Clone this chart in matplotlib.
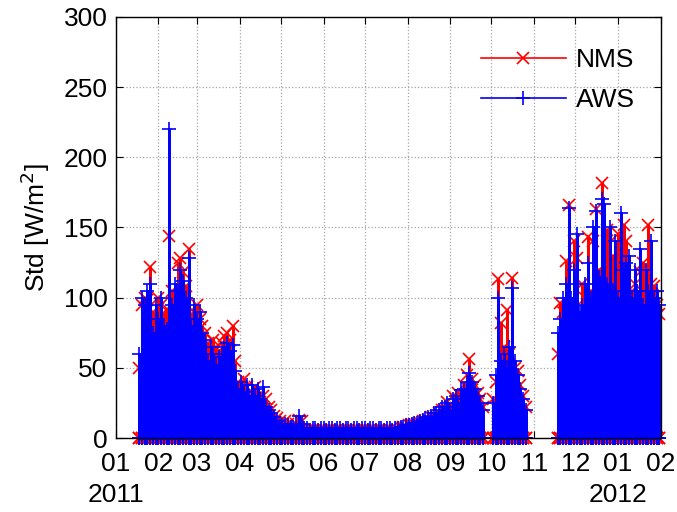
import numpy as np
import pandas as pd
import matplotlib
matplotlib.use('Agg')
import matplotlib.pyplot as plt
import matplotlib.dates as mdates

plt.rcParams['font.family'] = ['Liberation Sans', 'DejaVu Sans']

# daily peak std values, sampled every 2 days, three measuring periods
seg_starts = ['2011-01-18', '2011-10-02', '2011-11-18']

nms_a = [50, 95, 100, 98, 122, 90, 80, 100, 95, 88, 92, 144, 105, 98, 125, 128,
         118, 108, 135, 88, 90, 95, 85, 80, 75, 68, 60, 70, 65, 62, 68, 73,
         75, 70, 80, 55, 40, 35, 42, 36, 30, 32, 36, 30, 26, 30, 28, 22, 20,
         16, 14, 12, 10, 12, 10, 8, 9, 10, 13, 12, 6, 6, 5, 6, 6, 5, 6, 6, 5,
         6, 6, 5, 6, 6, 5, 6, 6, 5, 6, 6, 5, 6, 6, 5, 6, 6, 5, 6, 6, 5, 6, 6,
         5, 6, 6,
         7, 8, 8, 9, 9, 10, 10, 11, 12, 12, 13, 15, 14, 16, 18, 20,
         20, 26, 22, 30, 28, 32, 30, 38, 45,
         56, 42, 38, 32, 28, 22]
aws_a = [60, 100, 95, 105, 110, 75, 95, 85, 100, 80, 78, 220, 95, 110, 105, 120,
         112, 100, 128, 80, 95, 85, 90, 75, 70, 55, 65, 60, 52, 58, 60, 65,
         68, 62, 66, 48, 35, 40, 33, 38, 30, 38, 30, 35, 28, 36, 22, 20, 18,
         15, 12, 10, 9, 10, 9, 8, 8, 10, 16, 10, 7, 7, 6, 7, 7, 6, 7, 7, 6,
         7, 7, 6, 7, 7, 6, 7, 7, 6, 7, 7, 6, 7, 7, 6, 7, 7, 6, 7, 7, 6, 7, 7,
         6, 7, 7,
         8, 8, 9, 9, 10, 11, 11, 12, 13, 14, 15, 16, 18, 18, 20, 22,
         22, 25, 20, 28, 30, 25, 34, 35, 40,
         46, 40, 35, 30, 25, 20]

nms_b = [28, 40, 113, 82, 65, 91, 60, 114, 50, 48, 38, 30, 22]
aws_b = [25, 45, 100, 55, 60, 50, 65, 107, 55, 45, 35, 28, 20]

nms_c = [60, 96, 90, 126, 166, 95, 140, 128, 85, 110, 100, 143, 105, 140, 163,
         120, 182, 115, 148, 100, 130, 105, 145, 120, 152, 140, 95, 105, 110,
         90, 118, 125, 100, 152, 110, 108, 95, 88]
aws_c = [75, 85, 100, 110, 164, 100, 120, 145, 90, 95, 110, 125, 100, 150, 162,
         115, 170, 167, 110, 150, 105, 140, 100, 160, 120, 125, 130, 100, 120,
         105, 135, 95, 120, 105, 140, 100, 105, 95]


def spikes(starts, series):
    xs, ys = [], []
    for s, vals in zip(starts, series):
        d = pd.date_range(s, periods=len(vals), freq='2D')
        d = mdates.date2num(d)
        v = np.asarray(vals, float)
        xs.append(np.repeat(d, 3))
        ys.append(np.column_stack([np.zeros_like(v), v, np.zeros_like(v)]).ravel())
        xs.append([np.nan])
        ys.append([np.nan])
    return np.concatenate(xs), np.concatenate(ys)


fig = plt.figure(figsize=(6.77, 5.12), dpi=100)
ax = fig.add_axes([0.171, 0.1445, 0.805, 0.8225])

xn, yn = spikes(seg_starts, [nms_a, nms_b, nms_c])
xa, ya = spikes(seg_starts, [aws_a, aws_b, aws_c])
ax.plot(xn, yn, color='red', marker='x', markersize=9, mew=1.2, lw=2.0,
        label='NMS', clip_on=False)
ax.plot(xa, ya, color='blue', marker='+', markersize=10, mew=1.2, lw=2.0,
        label='AWS', clip_on=False)

ax.set_xlim(mdates.datestr2num('2011-01-01'), mdates.datestr2num('2012-02-01'))
ax.set_ylim(0, 300)
ax.xaxis.set_major_locator(mdates.MonthLocator())
ax.xaxis.set_major_formatter(mdates.DateFormatter('%m'))
ax.set_yticks(np.arange(0, 301, 50))
ax.tick_params(direction='in', length=5, labelsize=19, top=True, right=True)
ax.tick_params(axis='x', pad=10)
ax.tick_params(axis='y', pad=6)
ax.grid(True, linestyle=':', color='0.65', lw=0.9)
ax.set_axisbelow(True)
for sp in ax.spines.values():
    sp.set_linewidth(1.0)

ax.set_ylabel('Std [W/m$^2$]', fontsize=19, labelpad=8)

for yr in ['2011-01-01', '2012-01-01']:
    ax.text(mdates.datestr2num(yr), -0.108, yr[:4], transform=ax.get_xaxis_transform(),
            ha='center', va='top', fontsize=19)

leg = ax.legend(loc='upper right', bbox_to_anchor=(0.991, 0.976), frameon=False,
                fontsize=19, handlelength=3.2, handletextpad=0.38,
                borderaxespad=0.4, labelspacing=0.61)
for h in leg.legend_handles:
    h.set_linewidth(1.2)

fig.savefig('out.png', dpi=100)
